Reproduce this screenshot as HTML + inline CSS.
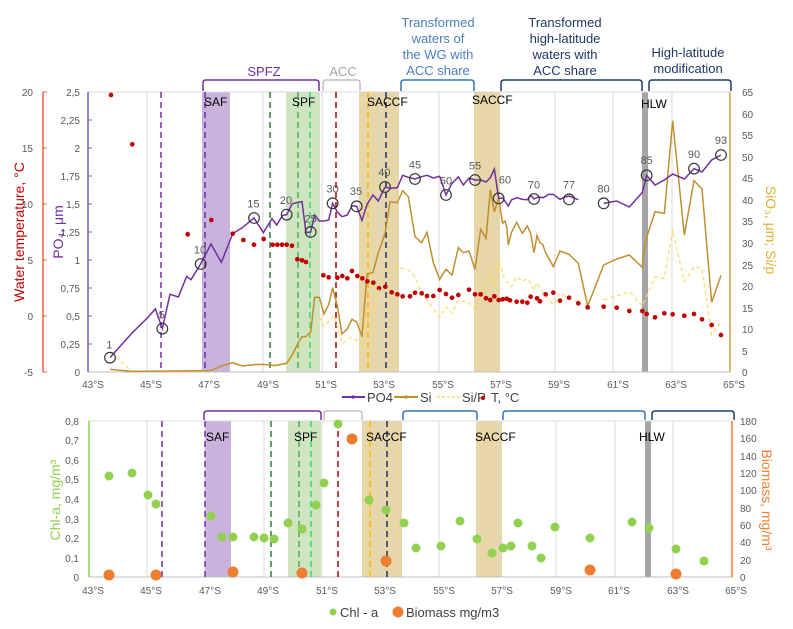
<!DOCTYPE html>
<html><head><meta charset="utf-8"><style>
html,body{margin:0;padding:0;background:#fff}
svg{display:block;font-family:"Liberation Sans",sans-serif}
.t{font-size:10px;fill:#595959}
</style></head><body>
<svg width="793" height="629" viewBox="0 0 793 629" xmlns="http://www.w3.org/2000/svg">
<!-- ===== TOP CHART ===== -->
<!-- bands -->
<rect x="202" y="92" width="28" height="280" fill="#c9b3dd"/>
<rect x="286" y="92" width="34" height="280" fill="#cfe5c2"/>
<rect x="359" y="92" width="40" height="280" fill="#e6d6a8"/>
<rect x="474" y="92" width="26" height="280" fill="#e6d6a8"/>
<rect x="642" y="92" width="6" height="280" fill="#a6a6a6"/>
<!-- grid -->
<g stroke="#d9d9d9" stroke-width="1">
<line x1="147" y1="92" x2="147" y2="372"/><line x1="263" y1="92" x2="263" y2="372"/>
<line x1="322" y1="92" x2="322" y2="372"/><line x1="380" y1="92" x2="380" y2="372"/>
<line x1="439" y1="92" x2="439" y2="372"/><line x1="555" y1="92" x2="555" y2="372"/>
<line x1="613" y1="92" x2="613" y2="372"/><line x1="672" y1="92" x2="672" y2="372"/>
<line x1="88" y1="92" x2="730" y2="92"/>
</g>
<line x1="88" y1="372" x2="730" y2="372" stroke="#bfbfbf"/>
<!-- dashed fronts -->
<g stroke-width="1.5" stroke-dasharray="6,4">
<line x1="161" y1="92" x2="161" y2="372" stroke="#7030a0"/>
<line x1="205" y1="92" x2="205" y2="372" stroke="#7030a0"/>
<line x1="270" y1="92" x2="270" y2="372" stroke="#2e7d32"/>
<line x1="298" y1="92" x2="298" y2="372" stroke="#4caf50"/>
<line x1="310" y1="92" x2="310" y2="372" stroke="#33dd66"/>
<line x1="336" y1="92" x2="336" y2="372" stroke="#b00000"/>
<line x1="368" y1="92" x2="368" y2="372" stroke="#f5b800"/>
<line x1="386" y1="92" x2="386" y2="372" stroke="#1f2d6e"/>
</g>
<!-- axes -->
<line x1="88" y1="92" x2="88" y2="372" stroke="#7f5fa8" stroke-width="1.5"/>
<g stroke="#7f5fa8"><line x1="88" y1="120" x2="92" y2="120"/><line x1="88" y1="148" x2="92" y2="148"/><line x1="88" y1="176" x2="92" y2="176"/><line x1="88" y1="204" x2="92" y2="204"/><line x1="88" y1="232" x2="92" y2="232"/><line x1="88" y1="260" x2="92" y2="260"/><line x1="88" y1="288" x2="92" y2="288"/><line x1="88" y1="316" x2="92" y2="316"/><line x1="88" y1="344" x2="92" y2="344"/></g>
<line x1="43" y1="92" x2="43" y2="372" stroke="#f06040" stroke-width="1.5"/>
<g stroke="#f06040"><line x1="43" y1="92" x2="47" y2="92"/><line x1="43" y1="148" x2="47" y2="148"/><line x1="43" y1="204" x2="47" y2="204"/><line x1="43" y1="260" x2="47" y2="260"/><line x1="43" y1="316" x2="47" y2="316"/><line x1="43" y1="372" x2="47" y2="372"/></g>
<line x1="730" y1="92" x2="730" y2="372" stroke="#d4a040" stroke-width="1.5"/>
<g class="t" text-anchor="end">
<text x="33" y="96">20</text><text x="33" y="152">15</text><text x="33" y="208">10</text><text x="33" y="264">5</text><text x="33" y="320">0</text><text x="33" y="376">-5</text>
<text x="80" y="96">2,5</text><text x="80" y="124">2,25</text><text x="80" y="152">2</text><text x="80" y="180">1,75</text><text x="80" y="208">1,5</text><text x="80" y="236">1,25</text><text x="80" y="264">1</text><text x="80" y="292">0,75</text><text x="80" y="320">0,5</text><text x="80" y="348">0,25</text><text x="80" y="376">0</text>
</g>
<g class="t">
<text x="742" y="96">65</text><text x="742" y="118">60</text><text x="742" y="139">55</text><text x="742" y="161">50</text><text x="742" y="182">45</text><text x="742" y="204">40</text><text x="742" y="225">35</text><text x="742" y="247">30</text><text x="742" y="269">25</text><text x="742" y="290">20</text><text x="742" y="312">15</text><text x="742" y="333">10</text><text x="742" y="355">5</text><text x="742" y="376">0</text>
</g>
<g class="t" text-anchor="middle">
<text x="93" y="388">43°S</text><text x="151" y="388">45°S</text><text x="209" y="388">47°S</text><text x="268" y="388">49°S</text><text x="326" y="388">51°S</text><text x="384" y="388">53°S</text><text x="443" y="388">55°S</text><text x="501" y="388">57°S</text><text x="559" y="388">59°S</text><text x="618" y="388">61°S</text><text x="676" y="388">63°S</text><text x="734" y="388">65°S</text>
</g>
<text transform="translate(24,232) rotate(-90)" text-anchor="middle" font-size="14" fill="#c00000">Water temperature, °C</text>
<text transform="translate(63,232) rotate(-90)" text-anchor="middle" font-size="14" fill="#7030a0">PO₄, μm</text>
<text transform="translate(766,230) rotate(90)" text-anchor="middle" font-size="14" fill="#e0b030">SiO₃, μm; Si/p</text>
<!-- band labels -->
<g font-size="12" fill="#000">
<text x="204" y="106">SAF</text><text x="292" y="106">SPF</text><text x="367" y="106">SACCF</text><text x="472" y="104">SACCF</text><text x="641" y="108">HLW</text>
</g>
<!-- brackets -->
<g fill="none" stroke-width="1.5">
<path d="M203,91 V83 Q203,80 206,80 H316 Q319,80 319,83 V91" stroke="#7030a0"/>
<path d="M323,91 V83 Q323,80 326,80 H357 Q360,80 360,83 V91" stroke="#bfbfbf"/>
<path d="M401,91 V83 Q401,80 404,80 H471 Q474,80 474,83 V91" stroke="#2e75b6"/>
<path d="M501,91 V83 Q501,80 504,80 H639 Q642,80 642,83 V91" stroke="#1f3864"/>
<path d="M649,91 V83 Q649,80 652,80 H728 Q731,80 731,83 V91" stroke="#1f3864"/>
</g>
<g font-size="13" text-anchor="middle">
<text x="264" y="76" fill="#7030a0">SPFZ</text>
<text x="343" y="76" fill="#a6a6a6">ACC</text>
<g fill="#4a7ebb"><text x="438" y="27">Transformed</text><text x="438" y="43">waters of</text><text x="438" y="59">the WG with</text><text x="438" y="75">ACC share</text></g>
<g fill="#1f3864"><text x="565" y="27">Transformed</text><text x="565" y="43">high-latitude</text><text x="565" y="59">waters with</text><text x="565" y="75">ACC share</text></g>
<g fill="#1f3864"><text x="688" y="57">High-latitude</text><text x="688" y="73">modification</text></g>
</g>
<!-- data part 1 (zoom1 coords) -->
<g transform="translate(0,60) scale(0.33333)">
<polyline vector-effect="non-scaling-stroke" fill="none" stroke="#ffd966" stroke-width="1.2" stroke-dasharray="4,3" points="330,878 397,934 633,934 664,918 698,908 727,918 762,914 790,913 816,916 860,912 876,895 893,870 906,860 918,850 944,800 958,770 972,800 1002,765 1026,850 1056,830 1086,855 1101,745 1119,760"/>
<polyline vector-effect="non-scaling-stroke" fill="none" stroke="#bf8f30" stroke-width="1.5" points="330,928 397,934 633,932 664,918 698,908 727,918 762,914 790,913 816,916 830,916 848,912 860,910 876,886 893,852 906,830 918,830 932,816 944,712 958,712 972,762 986,734 998,683 1012,738 1026,822 1042,806 1056,778 1070,786 1086,830 1101,643 1119,637 1135,578 1155,521"/>
<polyline vector-effect="non-scaling-stroke" fill="none" stroke="#7030a0" stroke-width="1.5" points="330,893 397,818 443,773 466,747 487,806 510,703 535,711 560,649 573,659 602,612 633,552 664,607 698,521 727,503 762,474 790,518 816,476 830,495 848,466 860,464 876,432 893,427 906,425 918,518 932,516 944,465 958,483 972,483 986,480 998,430 1012,456 1026,470 1042,465 1056,437 1070,439 1086,481 1101,433 1119,405 1135,423 1155,381"/>
<g fill="#c00000">
<circle cx="333" cy="105" r="7"/><circle cx="397" cy="253" r="7"/><circle cx="563" cy="523" r="7"/><circle cx="634" cy="480" r="7"/><circle cx="698" cy="521" r="7"/><circle cx="730" cy="540" r="7"/><circle cx="762" cy="554" r="7"/><circle cx="791" cy="537" r="7"/><circle cx="818" cy="554" r="7"/><circle cx="832" cy="554" r="7"/><circle cx="846" cy="554" r="7"/><circle cx="860" cy="554" r="7"/><circle cx="876" cy="557" r="7"/><circle cx="892" cy="598" r="7"/><circle cx="906" cy="601" r="7"/><circle cx="918" cy="606" r="7"/><circle cx="970" cy="646" r="7"/><circle cx="986" cy="652" r="7"/><circle cx="1012" cy="653" r="7"/><circle cx="1027" cy="648" r="7"/><circle cx="1042" cy="655" r="7"/><circle cx="1056" cy="633" r="7"/><circle cx="1072" cy="648" r="7"/><circle cx="1087" cy="655" r="7"/><circle cx="1102" cy="664" r="7"/><circle cx="1120" cy="668" r="7"/><circle cx="1137" cy="685" r="7"/><circle cx="1156" cy="680" r="7"/>
</g>
<g fill="none" stroke="#333" stroke-width="3.5">
<circle cx="330" cy="893" r="16"/><circle cx="487" cy="806" r="16"/><circle cx="602" cy="612" r="16"/><circle cx="762" cy="474" r="16"/><circle cx="860" cy="464" r="16"/><circle cx="932" cy="516" r="16"/><circle cx="998" cy="430" r="16"/><circle cx="1070" cy="439" r="16"/><circle cx="1155" cy="381" r="16"/>
</g>
<g font-size="33" fill="#595959" text-anchor="middle">
<text x="328" y="865">1</text><text x="485" y="775">5</text><text x="600" y="580">10</text><text x="760" y="442">15</text><text x="858" y="432">20</text><text x="932" y="487">25</text><text x="998" y="397">30</text><text x="1068" y="405">35</text><text x="1153" y="348">40</text>
</g>
</g>
<!-- data part 2 (zoom2 coords) -->
<g transform="translate(390,60) scale(0.33333)">
<polyline vector-effect="non-scaling-stroke" fill="none" stroke="#ffd966" stroke-width="1.2" stroke-dasharray="4,3" points="-51,760 -20,625 0,625 38,625 55,630 75,650 95,700 130,745 149,772 168,740 186,760 205,720 237,728 255,750 272,700 288,665 301,620 313,680 326,600 345,660 364,680 380,650 397,665 412,655 432,690 441,668 460,700 490,735 510,700 537,715 565,725"/>
<polyline vector-effect="non-scaling-stroke" fill="none" stroke="#ffd966" stroke-width="1.2" stroke-dasharray="4,3" points="641,720 718,695 757,738 795,650 823,655 848,510 883,665 912,620 936,625 965,825 993,785"/>
<polyline vector-effect="non-scaling-stroke" fill="none" stroke="#bf8f30" stroke-width="1.5" points="-15,521 0,425 22,428 38,392 55,410 75,530 95,548 111,517 130,608 149,658 168,628 186,645 205,563 220,578 237,573 255,628 272,508 288,535 301,390 313,455 326,415 338,490 345,483 350,500 355,555 364,518 380,487 397,520 412,498 422,520 432,578 441,527 450,548 458,553 467,578 490,620 510,573 537,583 565,610 593,738 641,615 680,597 718,585 757,622 760,585 770,532 795,455 823,460 848,182 883,525 912,362 936,387 965,727 993,646"/>
<polyline vector-effect="non-scaling-stroke" fill="none" stroke="#7030a0" stroke-width="1.5" points="-15,381 0,385 22,383 38,346 55,352 75,357 95,350 111,346 130,354 149,349 168,405 186,370 205,351 220,375 237,354 255,360 272,360 288,366 301,353 313,327 326,415 338,414 355,438 364,420 380,413 397,418 412,419 422,406 432,417 445,411 460,413 476,403 490,403 510,418 523,412 537,408 565,419"/>
<polyline vector-effect="non-scaling-stroke" fill="none" stroke="#7030a0" stroke-width="1.5" points="641,430 680,423 718,441 757,397 770,346 795,375 823,360 848,342 883,357 912,326 936,336 965,300 993,285"/>
<g fill="#c00000">
<circle cx="5" cy="697" r="7"/><circle cx="22" cy="703" r="7"/><circle cx="38" cy="709" r="7"/><circle cx="60" cy="709" r="7"/><circle cx="75" cy="698" r="7"/><circle cx="95" cy="700" r="7"/><circle cx="111" cy="708" r="7"/><circle cx="130" cy="708" r="7"/><circle cx="149" cy="690" r="7"/><circle cx="168" cy="702" r="7"/><circle cx="186" cy="713" r="7"/><circle cx="205" cy="705" r="7"/><circle cx="237" cy="689" r="7"/><circle cx="255" cy="703" r="7"/><circle cx="272" cy="703" r="7"/><circle cx="288" cy="715" r="7"/><circle cx="301" cy="720" r="7"/><circle cx="313" cy="709" r="7"/><circle cx="326" cy="720" r="7"/><circle cx="338" cy="718" r="7"/><circle cx="350" cy="716" r="7"/><circle cx="360" cy="721" r="7"/><circle cx="380" cy="725" r="7"/><circle cx="397" cy="725" r="7"/><circle cx="412" cy="728" r="7"/><circle cx="422" cy="710" r="7"/><circle cx="441" cy="715" r="7"/><circle cx="450" cy="724" r="7"/><circle cx="467" cy="703" r="7"/><circle cx="490" cy="698" r="7"/><circle cx="510" cy="722" r="7"/><circle cx="537" cy="713" r="7"/><circle cx="565" cy="730" r="7"/><circle cx="593" cy="742" r="7"/><circle cx="641" cy="740" r="7"/><circle cx="680" cy="743" r="7"/><circle cx="718" cy="753" r="7"/><circle cx="757" cy="753" r="7"/><circle cx="770" cy="762" r="7"/><circle cx="795" cy="772" r="7"/><circle cx="823" cy="760" r="7"/><circle cx="848" cy="763" r="7"/><circle cx="883" cy="767" r="7"/><circle cx="912" cy="762" r="7"/><circle cx="936" cy="778" r="7"/><circle cx="965" cy="795" r="7"/><circle cx="993" cy="825" r="7"/>
</g>
<g fill="none" stroke="#333" stroke-width="3.5">
<circle cx="75" cy="357" r="16"/><circle cx="168" cy="405" r="16"/><circle cx="255" cy="360" r="16"/><circle cx="326" cy="415" r="16"/><circle cx="432" cy="417" r="16"/><circle cx="537" cy="418" r="16"/><circle cx="641" cy="430" r="16"/><circle cx="770" cy="346" r="16"/><circle cx="912" cy="326" r="16"/><circle cx="993" cy="285" r="16"/>
</g>
<g font-size="33" fill="#595959" text-anchor="middle">
<text x="75" y="325">45</text><text x="168" y="373">50</text><text x="255" y="328">55</text><text x="345" y="370">60</text><text x="432" y="385">70</text><text x="537" y="386">77</text><text x="641" y="398">80</text><text x="770" y="312">85</text><text x="912" y="294">90</text><text x="993" y="252">93</text>
</g>
</g>
<!-- top legend -->
<g font-size="13" fill="#404040">
<line x1="342" y1="397" x2="365" y2="397" stroke="#7030a0" stroke-width="2"/><circle cx="353" cy="397" r="1.8" fill="#7030a0"/><text x="367" y="402">PO4</text>
<line x1="394" y1="397" x2="418" y2="397" stroke="#bf8f30" stroke-width="2"/><circle cx="406" cy="397" r="1.8" fill="#bf8f30"/><text x="420" y="402">Si</text>
<line x1="437" y1="397" x2="460" y2="397" stroke="#ffd966" stroke-width="1.5" stroke-dasharray="3,2"/><text x="462" y="402">Si/P</text>
<circle cx="483" cy="398" r="2" fill="#c00000"/><text x="491" y="402">T, °C</text>
</g>

<!-- ===== BOTTOM CHART ===== -->
<rect x="205" y="421" width="26" height="156" fill="#c9b3dd"/>
<rect x="288" y="421" width="33" height="156" fill="#cfe5c2"/>
<rect x="362" y="421" width="40" height="156" fill="#e6d6a8"/>
<rect x="476" y="421" width="26" height="156" fill="#e6d6a8"/>
<rect x="645" y="421" width="6" height="156" fill="#a6a6a6"/>
<g stroke="#d9d9d9" stroke-width="1">
<line x1="147" y1="421" x2="147" y2="577"/><line x1="205" y1="421" x2="205" y2="577"/><line x1="264" y1="421" x2="264" y2="577"/>
<line x1="322" y1="421" x2="322" y2="577"/><line x1="381" y1="421" x2="381" y2="577"/><line x1="439" y1="421" x2="439" y2="577"/>
<line x1="498" y1="421" x2="498" y2="577"/><line x1="556" y1="421" x2="556" y2="577"/><line x1="615" y1="421" x2="615" y2="577"/><line x1="673" y1="421" x2="673" y2="577"/>
<line x1="89" y1="421" x2="732" y2="421"/>
</g>
<line x1="89" y1="577" x2="732" y2="577" stroke="#bfbfbf"/>
<g stroke-width="1.5" stroke-dasharray="6,4">
<line x1="162" y1="421" x2="162" y2="577" stroke="#7030a0"/>
<line x1="205" y1="421" x2="205" y2="577" stroke="#7030a0"/>
<line x1="271" y1="421" x2="271" y2="577" stroke="#2e7d32"/>
<line x1="299" y1="421" x2="299" y2="577" stroke="#4caf50"/>
<line x1="311" y1="421" x2="311" y2="577" stroke="#33dd66"/>
<line x1="338" y1="421" x2="338" y2="577" stroke="#b00000"/>
<line x1="370" y1="421" x2="370" y2="577" stroke="#f5b800"/>
<line x1="387" y1="421" x2="387" y2="577" stroke="#1f2d6e"/>
</g>
<line x1="89" y1="421" x2="89" y2="577" stroke="#92d050" stroke-width="1.5"/>
<line x1="732" y1="421" x2="732" y2="577" stroke="#ed7d31" stroke-width="1.5"/>
<g fill="none" stroke-width="1.5">
<path d="M204,420 V414 Q204,411 207,411 H318 Q321,411 321,414 V420" stroke="#7030a0"/>
<path d="M324,420 V414 Q324,411 327,411 H359 Q362,411 362,414 V420" stroke="#bfbfbf"/>
<path d="M403,420 V414 Q403,411 406,411 H474 Q477,411 477,414 V420" stroke="#2e75b6"/>
<path d="M503,420 V414 Q503,411 506,411 H642 Q645,411 645,414 V420" stroke="#2e75b6"/>
<path d="M652,420 V414 Q652,411 655,411 H731 Q734,411 734,414 V420" stroke="#1f3864"/>
</g>
<g class="t" text-anchor="end">
<text x="79" y="425">0,8</text><text x="79" y="444">0,7</text><text x="79" y="464">0,6</text><text x="79" y="483">0,5</text><text x="79" y="503">0,4</text><text x="79" y="523">0,3</text><text x="79" y="542">0,2</text><text x="79" y="562">0,1</text><text x="79" y="581">0</text>
</g>
<g class="t">
<text x="740" y="425">180</text><text x="740" y="442">160</text><text x="740" y="460">140</text><text x="740" y="477">120</text><text x="740" y="494">100</text><text x="740" y="512">80</text><text x="740" y="529">60</text><text x="740" y="546">40</text><text x="740" y="564">20</text><text x="740" y="581">0</text>
</g>
<g class="t" text-anchor="middle">
<text x="93" y="594">43°S</text><text x="151" y="594">45°S</text><text x="210" y="594">47°S</text><text x="268" y="594">49°S</text><text x="327" y="594">51°S</text><text x="385" y="594">53°S</text><text x="444" y="594">55°S</text><text x="502" y="594">57°S</text><text x="561" y="594">59°S</text><text x="619" y="594">61°S</text><text x="678" y="594">63°S</text><text x="736" y="594">65°S</text>
</g>
<text transform="translate(60,500) rotate(-90)" text-anchor="middle" font-size="14" fill="#92d050">Chl-a, mg/m³</text>
<text transform="translate(762,500) rotate(90)" text-anchor="middle" font-size="14" fill="#ed7d31">Biomass, mg/m³</text>
<g font-size="12" fill="#000">
<text x="206" y="441">SAF</text><text x="294" y="441">SPF</text><text x="366" y="441">SACCF</text><text x="475" y="441">SACCF</text><text x="639" y="441">HLW</text>
</g>
<g fill="#92d050">
<circle cx="109" cy="476" r="4.5"/><circle cx="132" cy="473" r="4.5"/><circle cx="148" cy="495" r="4.5"/><circle cx="156" cy="504" r="4.5"/><circle cx="211" cy="516" r="4.5"/><circle cx="222" cy="537" r="4.5"/><circle cx="233" cy="537" r="4.5"/><circle cx="254" cy="537" r="4.5"/><circle cx="264" cy="538" r="4.5"/><circle cx="274" cy="539" r="4.5"/><circle cx="288" cy="523" r="4.5"/><circle cx="302" cy="529" r="4.5"/><circle cx="316" cy="505" r="4.5"/><circle cx="324" cy="483" r="4.5"/><circle cx="338" cy="424" r="4.5"/><circle cx="369" cy="500" r="4.5"/><circle cx="386" cy="510" r="4.5"/><circle cx="404" cy="523" r="4.5"/><circle cx="416" cy="548" r="4.5"/><circle cx="441" cy="546" r="4.5"/><circle cx="460" cy="521" r="4.5"/><circle cx="477" cy="539" r="4.5"/><circle cx="492" cy="553" r="4.5"/><circle cx="503" cy="548" r="4.5"/><circle cx="511" cy="546" r="4.5"/><circle cx="518" cy="523" r="4.5"/><circle cx="532" cy="546" r="4.5"/><circle cx="541" cy="558" r="4.5"/><circle cx="555" cy="527" r="4.5"/><circle cx="590" cy="538" r="4.5"/><circle cx="632" cy="522" r="4.5"/><circle cx="649" cy="528" r="4.5"/><circle cx="676" cy="549" r="4.5"/><circle cx="704" cy="561" r="4.5"/>
</g>
<g fill="#ed7d31">
<circle cx="109" cy="575" r="5.5"/><circle cx="156" cy="575" r="5.5"/><circle cx="233" cy="572" r="5.5"/><circle cx="302" cy="573" r="5.5"/><circle cx="352" cy="439" r="5.5"/><circle cx="386" cy="561" r="5.5"/><circle cx="590" cy="570" r="5.5"/><circle cx="676" cy="574" r="5.5"/>
</g>
<g font-size="13" fill="#404040">
<circle cx="333" cy="612" r="3.5" fill="#92d050"/><text x="340" y="617">Chl - a</text>
<circle cx="398" cy="612" r="5.5" fill="#ed7d31"/><text x="406" y="617">Biomass mg/m3</text>
</g>
</svg>
</body></html>
